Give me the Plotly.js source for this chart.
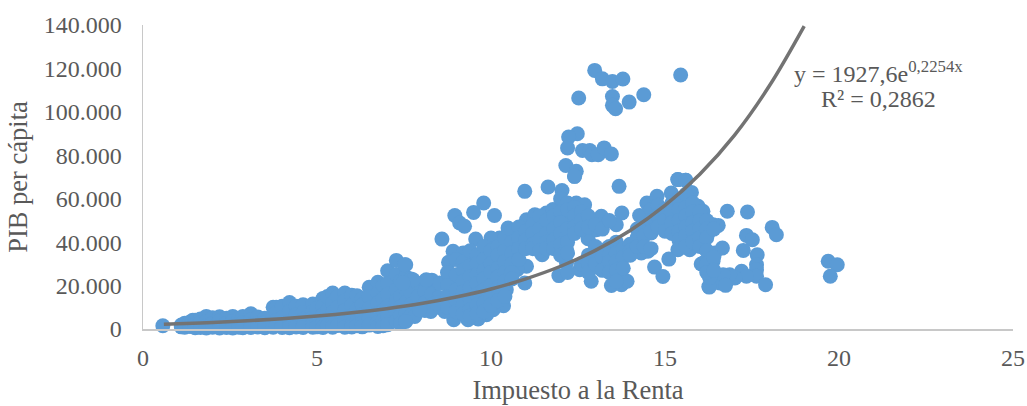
<!DOCTYPE html>
<html><head><meta charset="utf-8">
<script src="https://cdn.plot.ly/plotly-3.0.1.min.js"></script>
<style>html,body{margin:0;padding:0;background:#fff}</style>
</head><body><div id="chart" style="width:1027px;height:406px"></div>
<script>
const impuesto = [
0.57,1.1,1.1,1.2,1.2,1.2,1.35,1.35,1.43,1.5,1.5,1.5,1.65,1.65,1.65,1.82,1.82,1.82,1.82,2.0,2.0,2.0,2.2,2.2,2.2,2.2,2.4,2.4,2.4,2.58,2.58,2.58,2.58,2.75,2.75,2.75,2.87,2.87,2.87,3.1,3.1,3.1,3.1,3.3,3.3,3.3,3.5,3.5,3.5,3.5,
3.74,3.74,3.74,3.74,3.83,3.83,3.83,3.83,4.0,4.0,4.0,4.0,4.21,4.21,4.21,4.21,4.21,4.4,4.4,4.4,4.4,4.6,4.6,4.6,4.6,4.6,4.88,4.88,4.88,4.88,4.88,5.0,5.0,5.0,
5.17,5.17,5.17,5.17,5.17,5.3,5.3,5.3,5.3,5.45,5.45,5.45,5.45,5.45,5.6,5.6,5.6,5.6,5.8,5.8,5.8,5.8,5.8,6.0,6.0,6.0,6.0,6.0,6.15,6.15,6.15,6.15,6.3,6.3,6.3,6.3,6.3,
6.5,6.5,6.5,6.5,6.5,6.75,6.75,6.75,6.75,6.75,6.75,6.9,6.9,6.9,6.9,6.9,7.03,7.03,7.03,7.03,7.03,7.03,7.28,7.28,7.28,7.28,7.28,7.28,7.4,7.4,7.4,7.4,7.4,7.55,7.55,7.55,7.55,7.55,7.55,7.7,7.7,7.7,7.7,7.9,7.9,7.9,8.1,8.1,8.1,8.1,8.3,8.3,8.3,8.5,8.5,8.5,
10.97,11.64,12.04,12.4,13.68,9.79,9.5,8.96,9.1,9.24,10.1,8.59,10.49,9.56,11.02,11.26,11.59,12.07,12.45,12.69,13.76,13.6,13.3,13.17,12.79,13.03,11.47,8.91,8.78,10.25,10.0,10.49,10.92,
14.27,14.48,14.77,15.18,15.37,15.6,15.76,15.61,15.95,16.09,16.38,14.75,14.6,15.04,15.42,16.24,16.14,15.71,15.37,15.11,14.51,14.32,14.7,14.94,16.04,16.28,16.26,16.57,16.43,13.36,13.12,13.65,13.98,13.6,12.88,13.12,12.55,11.95,12.17,12.17,12.88,13.46,13.6,13.75,13.91,
11.02,10.75,10.97,10.49,10.44,10.36,10.06,9.87,9.63,9.34,8.93,8.67,8.27,7.81,7.55,7.52,9.77,9.48,9.2,10.06,10.06,9.68,9.29,9.0,8.53,8.14,7.76,7.47,9.29,8.91,8.43,7.95,9.77,10.25,11.4,11.78,12.17,12.55,12.17,11.59,11.21,10.73,11.78,12.36,
16.79,17.37,18.08,18.2,17.34,17.51,16.53,16.65,17.25,17.65,17.63,17.63,17.63,19.69,19.95,19.75,17.89,17.2,17.34,17.01,16.86,16.67,16.74,16.27,16.29,16.38,16.1,
12.98,13.2,13.49,13.79,15.45,12.52,13.49,14.39,13.97,13.49,13.58,12.48,12.23,12.2,12.63,12.84,12.9,13.08,13.25,13.46,12.15,12.45,12.4,15.37,15.59
];
const pib = [
1500,1000,1800,1500,2600,800,3200,1200,4000,4000,2000,600,4600,2800,700,5800,3500,1500,500,5200,2500,800,5600,3800,1200,500,5000,2600,700,5800,3600,1400,500,4500,2200,800,5800,3000,600,7000,4200,1800,700,5500,2600,900,5000,3000,1200,600,
10000,6000,2800,800,10000,7500,4000,1600,10500,5200,2200,700,12200,8000,3500,1200,600,10500,6500,2500,900,11200,7500,4500,1500,700,11500,8000,5000,2200,800,9500,3500,1000,
14000,10500,6500,2800,700,15000,8500,4000,1500,16600,12000,7500,2500,800,15000,10000,5000,1600,16600,13000,8500,3800,800,15500,11000,6000,2000,900,15300,9000,4000,1500,14000,11000,6500,2600,1000,
19200,15000,9500,5000,1800,21500,16500,12000,7000,3000,1200,20000,14000,8500,4000,1500,26800,21000,16000,10500,5500,2000,31600,25000,18000,13000,8000,3500,22000,15000,10000,6000,2500,29600,24000,18500,12000,7000,3800,23000,17000,11000,6000,21000,15000,9500,22000,17500,12000,8500,22500,16000,11000,21000,14500,10000,
63400,65400,63800,70300,65700,58000,53700,52300,48800,47300,52300,41400,46500,41400,50300,52600,53400,56500,58000,57200,53400,48000,49600,51900,41600,45700,34200,35800,30700,41900,41900,36500,38100,
52300,58000,61100,62600,68800,68500,62900,58000,56500,54200,48000,48800,44200,47300,42700,44200,37300,36500,36500,32200,35800,35000,28500,24200,29900,23900,19600,21200,35000,37300,36500,34200,37300,28900,28100,28100,27300,24600,36500,30400,22000,20000,24300,20400,22000,
28900,27300,21200,25800,18100,10700,8900,6600,4600,4300,4300,8100,8100,5800,3500,29600,35000,31900,35000,31900,22700,20400,27300,22700,21200,22700,22700,21200,13500,12000,12000,8900,15000,16600,47300,47300,50300,48800,42700,39600,41100,41100,55000,53400,
54200,53900,46800,43400,43100,41100,47700,37300,36200,34200,29600,27300,24300,31200,29600,24300,20400,26600,24300,23500,25000,25000,20100,19300,23900,31200,30400,
119100,115200,114000,115100,117000,106400,107100,107900,104500,103000,101400,89900,88400,83400,82200,82200,80300,80300,83400,80600,75300,72600,70300,68800,68500
];
const impuestoDenso = [
8.75,8.75,8.75,8.75,
9.0,9.0,9.0,9.0,9.0,
9.2,9.2,9.2,9.2,9.2,9.2,
9.4,9.4,9.4,9.4,9.4,9.4,9.4,
9.6,9.6,9.6,9.6,9.6,9.6,9.6,
9.8,9.8,9.8,9.8,9.8,9.8,9.8,
10.0,10.0,10.0,10.0,10.0,10.0,
10.2,10.2,10.2,10.2,10.2,10.2,
10.4,10.4,10.4,10.4,10.4,10.4,
10.6,10.6,10.6,10.6,10.6,10.6,
10.8,10.8,10.8,10.8,
11.0,11.0,11.0,
11.2,11.2,11.2,11.2,
11.4,11.4,11.4,11.4,
11.6,11.6,11.6,11.6,
11.8,11.8,11.8,11.8,
12.0,12.0,12.0,12.0,12.0,12.0,
12.2,12.2,12.2,12.2,12.2,12.2,
12.4,12.4,12.4,12.4,
12.6,12.6,12.6,12.6,
12.8,12.8,12.8,12.8,12.8,
13.0,13.0,13.0,13.0,
13.2,13.2,13.2,13.2,
13.4,13.4,13.4,13.4,13.4,
13.6,13.6,13.6,13.6,13.6,
13.8,13.8,13.8,
14.0,14.0,14.0,
14.2,14.2,14.2,
14.4,14.4,14.4,14.4,
14.6,14.6,14.6,14.6,
14.8,14.8,14.8,
15.0,15.0,15.0,
15.2,15.2,15.2,15.2,
15.4,15.4,15.4,15.4,15.4,15.4,
15.6,15.6,15.6,15.6,15.6,15.6,
15.8,15.8,15.8,15.8,15.8,
16.0,16.0,16.0,16.0,16.0,
16.2,16.2,16.2,16.2,16.2,16.2,
16.4,16.4,16.4
];
const pibDenso = [
26000,20000,15000,10000,
32000,25000,18000,13000,8000,
31000,27000,22000,17000,11000,7000,
36000,29000,24000,19000,14000,9000,6000,
34000,30000,25000,21000,16000,11000,7000,
38000,32000,27000,23000,18000,12000,8000,
36000,30000,26000,20000,15000,11000,
38000,34000,28000,24000,19000,13000,
42000,36000,31000,26000,22000,15000,
45000,40000,35000,30000,26000,23000,
47000,42000,37000,32000,
45000,41000,37000,
48000,44000,39000,37000,
52000,46000,41000,36000,
50000,44000,40000,37000,
52000,46000,41000,37000,
60000,54000,49000,44000,39000,34000,
58000,55000,46000,40000,35000,26000,
56000,52000,47000,44000,
54000,50000,46000,30000,
52000,47000,34000,30000,26000,
48000,38000,34000,30000,
46000,36000,33000,27000,
50000,38000,34000,31000,26000,
40000,35000,31000,27000,22000,
37000,33000,28000,
39000,36000,34000,
46000,42000,38000,
52000,47000,43000,38000,
55000,50000,45000,37000,
57000,52000,47000,
55000,50000,45000,
58000,54000,49000,44000,
60000,55000,50000,45000,41000,37000,
62000,56000,52000,47000,43000,38000,
58000,54000,49000,45000,40000,
54000,50000,46000,42000,38000,
50000,46000,42000,36000,30000,26000,
46000,33000,27000
];
const tendenciaX = [0.6,1,2,3,4,5,6,7,8,9,10,11,12,13,14,15,16,17,18,19];
const tendenciaY = [2200,2410,3020,3790,4750,5950,7460,9350,11700,14700,18400,23100,28900,36200,45400,56900,71300,89300,112000,139500];
const xTicks = [0,5,10,15,20,25];
const yTicks = [0,20000,40000,60000,80000,100000,120000,140000];
const yTickLabels = ["0","20.000","40.000","60.000","80.000","100.000","120.000","140.000"];
const gris = "#595959";
Plotly.newPlot("chart",[
 {type:"scatter",mode:"markers",x:impuesto.concat(impuestoDenso),y:pib.concat(pibDenso),cliponaxis:false,hoverinfo:"skip",
  marker:{size:15,color:"#5b9bd5",line:{width:0}}},
 {type:"scatter",mode:"lines",x:tendenciaX,y:tendenciaY,cliponaxis:false,hoverinfo:"skip",
  line:{color:"#737373",width:3.5,shape:"spline",smoothing:1}}
],{
 width:1027,height:406,showlegend:false,paper_bgcolor:"#fff",plot_bgcolor:"#fff",
 margin:{l:143,r:14,t:24.5,b:77,pad:0},
 font:{family:"Liberation Serif, serif",color:gris},
 xaxis:{range:[0,25],tickvals:xTicks,ticks:"outside",ticklen:7,tickcolor:"rgba(0,0,0,0)",showgrid:false,zeroline:false,showline:true,linecolor:"#c8c8c8",linewidth:1.5,
   tickfont:{size:24,color:gris},automargin:false,title:{text:"Impuesto a la Renta",font:{size:26.5,color:gris},standoff:10}},
 yaxis:{range:[0,140000],tickvals:yTicks,ticktext:yTickLabels,ticks:"outside",ticklen:15,tickcolor:"rgba(0,0,0,0)",showgrid:false,zeroline:false,showline:true,linecolor:"#c8c8c8",linewidth:1.5,
   tickfont:{size:24,color:gris},automargin:false,title:{text:"PIB per cápita",font:{size:26.5,color:gris},standoff:8}},
 annotations:[
  {xref:"paper",yref:"paper",x:(878-143)/870,y:(329-72)/304.5,xanchor:"center",yanchor:"middle",showarrow:false,
   text:"y = 1927,6e<sup>0,2254x</sup>",font:{size:24,color:gris}},
  {xref:"paper",yref:"paper",x:(878-143)/870,y:(329-99)/304.5,xanchor:"center",yanchor:"middle",showarrow:false,
   text:"R² = 0,2862",font:{size:24,color:gris}}
 ]
},{staticPlot:true,displayModeBar:false});
</script></body></html>
